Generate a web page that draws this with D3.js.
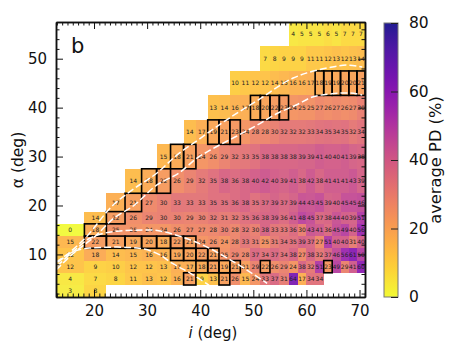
<!DOCTYPE html>
<html>
<head>
<meta charset="utf-8">
<script src="https://d3js.org/d3.v7.min.js"></script>
<style>
html, body { margin: 0; background: #fff; }
text { font-family: "DejaVu Sans", sans-serif; }
</style>
</head>
<body>
<div id="chart"></div>
<script>
// bin edges in degrees (i bins are even steps of cos i)
var iEdges = [12.84, 18.19, 22.33, 25.84, 28.96, 31.79, 34.41, 36.87, 39.19, 41.41, 43.53, 45.57, 47.55,
    49.46, 51.32, 53.13, 54.90, 56.63, 58.33, 60.00, 61.64, 63.26, 64.85, 66.42, 67.98, 69.51, 71.03];
var alphaEdges = [1.25, 3.75, 6.25, 8.75, 11.25, 13.75, 16.25, 18.75, 22.5, 27.5, 32.5, 37.5, 42.5, 47.5, 52.5, 57.5];

// average PD per alpha bin, bottom to top; firstCol is the i bin where each row starts
var firstCol = [0, 0, 0, 0, 0, 0, 1, 2, 3, 5, 7, 9, 11, 14, 17];
var pdRows = [
    [3, 8],
    [4, 7, 8, 11, 13, 12, 16, 21, 9, 13, 21, 26, 15, 24, 33, 37, 31, 64, 17, 34, 34],
    [12, 9, 10, 12, 12, 13, 17, 17, 18, 21, 19, 21, 21, 29, 22, 26, 29, 24, 38, 32, 51, 23, 49, 29, 41, 60],
    [12, 18, 14, 15, 16, 16, 19, 20, 22, 21, 25, 29, 28, 37, 34, 37, 34, 38, 27, 38, 32, 37, 46, 56, 61, 50],
    [15, 22, 21, 19, 20, 18, 22, 21, 24, 26, 24, 28, 33, 31, 25, 31, 34, 35, 39, 37, 27, 51, 40, 40, 31, 40],
    [0, 18, 25, 25, 24, 24, 26, 27, 27, 28, 30, 28, 32, 30, 38, 33, 33, 36, 30, 43, 41, 36, 45, 49, 40, 56],
    [14, 22, 26, 29, 30, 30, 29, 30, 32, 31, 32, 35, 36, 38, 39, 36, 41, 48, 45, 37, 38, 44, 40, 39, 51],
    [17, 21, 27, 30, 33, 33, 33, 35, 35, 36, 38, 35, 37, 39, 37, 39, 44, 43, 45, 39, 40, 45, 45, 46],
    [14, 18, 22, 26, 29, 32, 35, 38, 36, 38, 40, 42, 40, 39, 41, 38, 42, 38, 41, 41, 41, 43, 39],
    [15, 18, 21, 24, 26, 29, 32, 33, 35, 38, 38, 38, 38, 39, 39, 41, 40, 40, 41, 39, 38],
    [14, 17, 19, 21, 23, 24, 28, 28, 30, 32, 32, 32, 33, 34, 35, 34, 35, 32, 34],
    [13, 14, 16, 17, 18, 20, 22, 23, 24, 25, 25, 27, 26, 27, 26, 27, 30],
    [10, 11, 12, 12, 14, 15, 16, 16, 17, 18, 19, 19, 20, 20, 21],
    [7, 8, 9, 9, 9, 11, 11, 12, 13, 12, 13, 14],
    [4, 5, 5, 5, 6, 5, 7, 7, 7]
];

// outlined cells as [row, col]
var boxedCells = [
    [1, 7], [1, 10],
    [2, 8], [2, 9], [2, 10], [2, 11], [2, 14], [2, 21],
    [3, 6], [3, 7], [3, 8], [3, 9],
    [4, 1], [4, 2], [4, 3], [4, 4], [4, 5], [4, 6], [4, 7],
    [5, 1], [6, 2], [7, 3], [8, 4], [8, 5], [9, 6], [9, 7],
    [10, 9], [10, 10], [10, 11],
    [11, 13], [11, 14], [11, 15], [11, 16],
    [12, 20], [12, 21], [12, 22], [12, 23], [12, 24], [12, 25]
];

// white dashed curves as [i, alpha]
var curveUpper = [[12.84, 8.4], [14.5, 9.65], [18.3, 13.3], [23.6, 20.1], [27.15, 23.15], [32.05, 26.8], [35.6, 30.3],
    [39.6, 33.4], [44.7, 37.3], [50.9, 41.55], [57.5, 46.05], [60.1, 47.1], [63.9, 48.1], [67.6, 48.7], [70.5, 48.3]];
var curveLower = [[12.84, 6.8], [16.4, 10.5], [20.2, 13.7], [23.95, 17.6], [27.15, 19.7], [31.85, 24.2], [36.2, 26.8],
    [39.4, 29.7], [41.85, 31.3], [46.55, 34], [50.7, 36.4], [54.65, 38.9], [58.4, 40.7], [60.7, 42], [64.45, 42.8], [67.6, 43], [70.5, 42.6]];
var curveInner = [[13.2, 8.4], [16, 10.5], [19.2, 11.3], [24.3, 11.5], [28.1, 11.3], [32.4, 9.9], [34.7, 8.2], [38.1, 6.2], [41.65, 3.7]];
var curveOuter = [[13, 7.6], [16.4, 10.9], [19.2, 13.3], [24.9, 14.8], [30.5, 15], [36.2, 13.7], [41.3, 11.5], [45.2, 9.2], [48.8, 6.8], [52.6, 4.1]];

var xTicks = [20, 30, 40, 50, 60, 70];
var yTicks = [10, 20, 30, 40, 50];
var cbTicks = [0, 20, 40, 60, 80];

var margin = {top: 22, left: 56},
    width = 309,
    height = 275;

var svg = d3.select("#chart")
  .append("svg")
    .attr("width", 457)
    .attr("height", 353);

var g = svg.append("g")
    .attr("transform", "translate(" + margin.left + "," + margin.top + ")");

var x = d3.scaleLinear().domain([12.84, 71.03]).range([0, width]);
var y = d3.scaleLinear().domain([1.3, 57.5]).range([height, 0]);

function color(v) { return d3.interpolatePlasma(1 - v / 80); }

svg.append("clipPath").attr("id", "plotclip")
  .append("rect").attr("width", width).attr("height", height);

var plot = g.append("g").attr("clip-path", "url(#plotclip)");

var cells = [];
pdRows.forEach(function(row, r) {
    row.forEach(function(v, k) {
        cells.push({row: r, col: firstCol[r] + k, value: v});
    });
});

plot.selectAll("rect.cell")
    .data(cells)
    .enter()
    .append("rect")
        .attr("class", "cell")
        .attr("x", function(d) { return x(iEdges[d.col]); })
        .attr("y", function(d) { return y(alphaEdges[d.row + 1]); })
        .attr("width", function(d) { return x(iEdges[d.col + 1]) - x(iEdges[d.col]); })
        .attr("height", function(d) { return y(alphaEdges[d.row]) - y(alphaEdges[d.row + 1]); })
        .attr("shape-rendering", "crispEdges")
        .style("fill", function(d) { return color(d.value); })
        .style("fill-opacity", 0.85);

plot.selectAll("text.val")
    .data(cells)
    .enter()
    .append("text")
        .attr("class", "val")
        .attr("x", function(d) { return x((iEdges[d.col] + iEdges[d.col + 1]) / 2); })
        .attr("y", function(d) { return y((alphaEdges[d.row] + alphaEdges[d.row + 1]) / 2); })
        .attr("dy", "0.35em")
        .attr("text-anchor", "middle")
        .style("font-size", "6px")
        .style("fill", "#222")
        .text(function(d) { return d.value; });

plot.selectAll("rect.box")
    .data(boxedCells)
    .enter()
    .append("rect")
        .attr("class", "box")
        .attr("x", function(d) { return x(iEdges[d[1]]); })
        .attr("y", function(d) { return y(alphaEdges[d[0] + 1]); })
        .attr("width", function(d) { return x(iEdges[d[1] + 1]) - x(iEdges[d[1]]); })
        .attr("height", function(d) { return y(alphaEdges[d[0]]) - y(alphaEdges[d[0] + 1]); })
        .style("fill", "none")
        .style("stroke", "#000")
        .style("stroke-width", 1.6);

var curve = d3.line()
    .x(function(d) { return x(d[0]); })
    .y(function(d) { return y(d[1]); })
    .curve(d3.curveMonotoneX);

[curveUpper, curveLower, curveInner, curveOuter].forEach(function(c) {
    plot.append("path")
        .attr("d", curve(c))
        .style("fill", "none")
        .style("stroke", "#fff")
        .style("stroke-width", 1.5)
        .style("stroke-dasharray", "7,3");
});

// ticks point inward on all four sides
function styleAxis(a) {
    a.selectAll("text").style("font-size", "15px").style("fill", "#111");
    a.selectAll("line").style("stroke", "#111");
    a.select(".domain").style("stroke", "#111").style("stroke-width", 1.5);
}

var xMinor = d3.range(13, 72).filter(function(d) { return d % 10 != 0; });
var yMinor = d3.range(2, 58, 2).filter(function(d) { return d % 10 != 0; });

g.append("g").attr("transform", "translate(0," + height + ")")
    .call(d3.axisBottom(x).tickValues(xTicks).tickSize(-7).tickPadding(8).tickSizeOuter(0))
    .call(styleAxis);
g.append("g").attr("transform", "translate(0," + height + ")")
    .call(d3.axisBottom(x).tickValues(xMinor).tickSize(-3.5).tickFormat("").tickSizeOuter(0))
    .call(styleAxis);
g.append("g")
    .call(d3.axisTop(x).tickValues(xTicks).tickSize(-7).tickFormat("").tickSizeOuter(0))
    .call(styleAxis);
g.append("g")
    .call(d3.axisTop(x).tickValues(xMinor).tickSize(-3.5).tickFormat("").tickSizeOuter(0))
    .call(styleAxis);
g.append("g")
    .call(d3.axisLeft(y).tickValues(yTicks).tickSize(-7).tickPadding(9).tickSizeOuter(0))
    .call(styleAxis);
g.append("g")
    .call(d3.axisLeft(y).tickValues(yMinor).tickSize(-3.5).tickFormat("").tickSizeOuter(0))
    .call(styleAxis);
g.append("g").attr("transform", "translate(" + width + ",0)")
    .call(d3.axisRight(y).tickValues(yTicks).tickSize(-7).tickFormat("").tickSizeOuter(0))
    .call(styleAxis);
g.append("g").attr("transform", "translate(" + width + ",0)")
    .call(d3.axisRight(y).tickValues(yMinor).tickSize(-3.5).tickFormat("").tickSizeOuter(0))
    .call(styleAxis);

g.append("text")
    .attr("x", 15)
    .attr("y", 31)
    .style("font-size", "21px")
    .style("fill", "#111")
    .text("b");

var xLabel = svg.append("text")
    .attr("x", 213)
    .attr("y", 338)
    .attr("text-anchor", "middle")
    .style("font-size", "15px")
    .style("fill", "#111");
xLabel.append("tspan").style("font-style", "italic").text("i");
xLabel.append("tspan").text(" (deg)");

svg.append("text")
    .attr("transform", "translate(23,160) rotate(-90)")
    .attr("text-anchor", "middle")
    .style("font-size", "15.5px")
    .style("fill", "#111")
    .text("α (deg)");

// colorbar
var cbar = svg.append("g").attr("transform", "translate(384,23)");
var cbHeight = 274, cbWidth = 14;
var cbScale = d3.scaleLinear().domain([0, 80]).range([cbHeight, 0]);

var grad = svg.append("defs").append("linearGradient")
    .attr("id", "cbgrad")
    .attr("x1", 0).attr("y1", 1).attr("x2", 0).attr("y2", 0);
d3.range(0, 81, 4).forEach(function(v) {
    grad.append("stop")
        .attr("offset", (v / 80 * 100) + "%")
        .attr("stop-color", color(v))
        .attr("stop-opacity", 0.92);
});

cbar.append("rect")
    .attr("width", cbWidth)
    .attr("height", cbHeight)
    .style("fill", "url(#cbgrad)")
    .style("stroke", "#777")
    .style("stroke-width", 1);

cbar.append("g").attr("transform", "translate(" + cbWidth + ",0)")
    .call(d3.axisRight(cbScale).tickValues(cbTicks).tickSize(-7).tickPadding(11).tickSizeOuter(0))
    .call(function(a) {
        a.select(".domain").remove();
        a.selectAll("text").style("font-size", "15.5px").style("fill", "#111");
        a.selectAll("line").style("stroke", "#222");
    });

svg.append("text")
    .attr("transform", "translate(441,160) rotate(-90)")
    .attr("text-anchor", "middle")
    .style("font-size", "16.3px")
    .style("fill", "#111")
    .text("average PD (%)");
</script>
</body>
</html>
